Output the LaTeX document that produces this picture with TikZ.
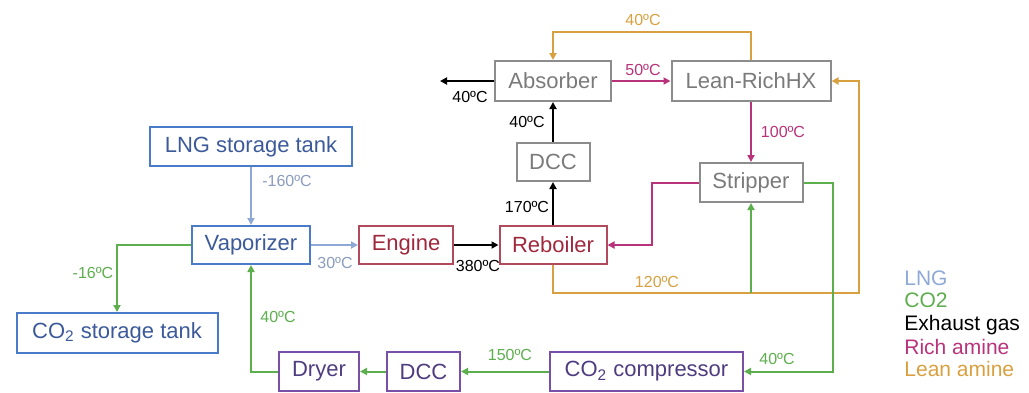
\documentclass[tikz,border=0pt]{standalone}
\usepackage{fontspec}
\setmainfont{Liberation Sans}
\usepackage{xcolor}
\usetikzlibrary{positioning, arrows.meta, calc}

\definecolor{lngline}{HTML}{8FA9D6}
\definecolor{lngdraw}{HTML}{4A7BC8}
\definecolor{lngtext}{HTML}{3C5A9A}
\definecolor{lnglabel}{HTML}{8A9BBD}
\definecolor{co2green}{HTML}{5DAE4D}
\definecolor{richpink}{HTML}{B8337A}
\definecolor{leanorange}{HTML}{D9A040}
\definecolor{unitgray}{HTML}{8C8C8C}
\definecolor{unittext}{HTML}{7A7A7A}
\definecolor{enginered}{HTML}{B04A5C}
\definecolor{enginetext}{HTML}{A0283C}
\definecolor{dryerpurple}{HTML}{7A4FA8}
\definecolor{dryertext}{HTML}{4F3C80}

\begin{document}
\begin{tikzpicture}[
        x=0.5pt, y=-0.5pt,
        every node/.style={
            font=\fontsize{11}{13}\selectfont,
            align=center,
            inner sep=0pt
        },
        unit/.style={
            rectangle,
            draw,
            line width=1pt
        },
        lngbox/.style={
            unit,
            draw=lngdraw,
            text=lngtext
        },
        graybox/.style={
            unit,
            draw=unitgray,
            text=unittext
        },
        redbox/.style={
            unit,
            draw=enginered,
            text=enginetext
        },
        purplebox/.style={
            unit,
            draw=dryerpurple,
            text=dryertext
        },
        flow/.style={
            -{Triangle[length=3.5pt, width=3.5pt]},
            line width=1pt
        },
        lngflow/.style={flow, draw=lngline},
        co2flow/.style={flow, draw=co2green},
        gasflow/.style={flow, draw=black},
        richflow/.style={flow, draw=richpink},
        leanflow/.style={flow, draw=leanorange},
        templbl/.style={
            font=\fontsize{8}{9}\selectfont
        },
        legend/.style={
            anchor=west,
            font=\fontsize{10.5}{12}\selectfont
        }
    ]

    \useasboundingbox (0,0) rectangle (1029,392);

    % Capture side

    \node[graybox, minimum width=58pt, minimum height=20pt]
    (absorber) at (553,81) {Absorber};

    \node[graybox, minimum width=79.5pt, minimum height=20pt]
    (leanrich) at (751,81) {Lean-RichHX};

    \node[graybox, minimum width=36.5pt, minimum height=19pt]
    (dcctop) at (553,162) {DCC};

    \node[graybox, minimum width=51.5pt, minimum height=19.5pt]
    (stripper) at (751,182.5) {Stripper};

    \node[redbox, minimum width=53.5pt, minimum height=19pt]
    (reboiler) at (553,245) {Reboiler};

    % LNG side

    \node[lngbox, minimum width=101pt, minimum height=19.5pt]
    (lngtank) at (251,146.5) {LNG storage tank};

    \node[lngbox, minimum width=59pt, minimum height=19pt]
    (vaporizer) at (251,245) {Vaporizer};

    \node[redbox, minimum width=47pt, minimum height=19pt]
    (engine) at (406,245) {Engine};

    \node[lngbox, minimum width=100.5pt, minimum height=20pt]
    (co2tank) at (117,333) {CO\textsubscript{2} storage tank};

    % CO2 train

    \node[purplebox, minimum width=40pt, minimum height=19.5pt]
    (dryer) at (319,371.5) {Dryer};

    \node[purplebox, minimum width=36.5pt, minimum height=19.5pt]
    (dccbot) at (423.5,371.5) {DCC};

    \node[purplebox, minimum width=96.5pt, minimum height=19.5pt]
    (compressor) at (646.5,371.5) {CO\textsubscript{2} compressor};

    \coordinate (gasout) at (440,81);
    \coordinate (leanbot) at (859,293);
    \coordinate (co2tap) at (stripper.south |- leanbot);

    % Exhaust gas

    \draw[gasflow] (engine) -- (reboiler);
    \draw[gasflow] (reboiler) -- (dcctop);
    \draw[gasflow] (dcctop) -- (absorber);
    \draw[gasflow] (absorber) -- (gasout);

    % Rich amine

    \draw[richflow] (absorber) -- (leanrich);
    \draw[richflow] (leanrich) -- (stripper);
    \draw[richflow] (stripper.west) -- ++(-47,0) |- (reboiler.east);

    % Lean amine

    \draw[leanflow] (leanrich.north) -- ++(0,-28) -| (absorber.north);
    \draw[leanflow] (reboiler.south) |- (leanbot) |- (leanrich.east);

    % LNG

    \draw[lngflow] (lngtank) -- (vaporizer);
    \draw[lngflow] (vaporizer) -- (engine);

    % CO2

    \draw[co2flow] (co2tap) -- (stripper.south);
    \draw[co2flow] (stripper.east) -- ++(29,0) |- (compressor.east);
    \draw[co2flow] (compressor) -- (dccbot);
    \draw[co2flow] (dccbot) -- (dryer);
    \draw[co2flow] (dryer.west) -| (vaporizer.south);
    \draw[co2flow] (vaporizer.west) -| (co2tank.north);

    % Temperatures

    \node[templbl, leanorange] (t40lean) at (643,20) {40ºC};
    \node[templbl] (t40out) at (470,97) {40ºC};
    \node[templbl, richpink] (t50) at (643,70) {50ºC};
    \node[templbl] (t40dcc) at (527,122) {40ºC};
    \node[templbl, richpink] (t100) at (783,132) {100ºC};
    \node[templbl] (t170) at (527,207) {170ºC};
    \node[templbl] (t380) at (478,266) {380ºC};
    \node[templbl, leanorange] (t120) at (657,282) {120ºC};
    \node[templbl, lnglabel] (t160) at (287,181) {-160ºC};
    \node[templbl, lnglabel] (t30) at (335,263) {30ºC};
    \node[templbl, co2green] (t16) at (93,273) {-16ºC};
    \node[templbl, co2green] (t40dry) at (278,317) {40ºC};
    \node[templbl, co2green] (t150) at (510,355) {150ºC};
    \node[templbl, co2green] (t40comp) at (777,359) {40ºC};

    % Legend

    \node[legend, lngline] (keylng) at (904,278) {LNG};
    \node[legend, co2green] (keyco2) at (904,300) {CO2};
    \node[legend] (keygas) at (904,325) {Exhaust gas};
    \node[legend, richpink] (keyrich) at (904,347) {Rich amine};
    \node[legend, leanorange] (keylean) at (904,369) {Lean amine};

\end{tikzpicture}
\end{document}
